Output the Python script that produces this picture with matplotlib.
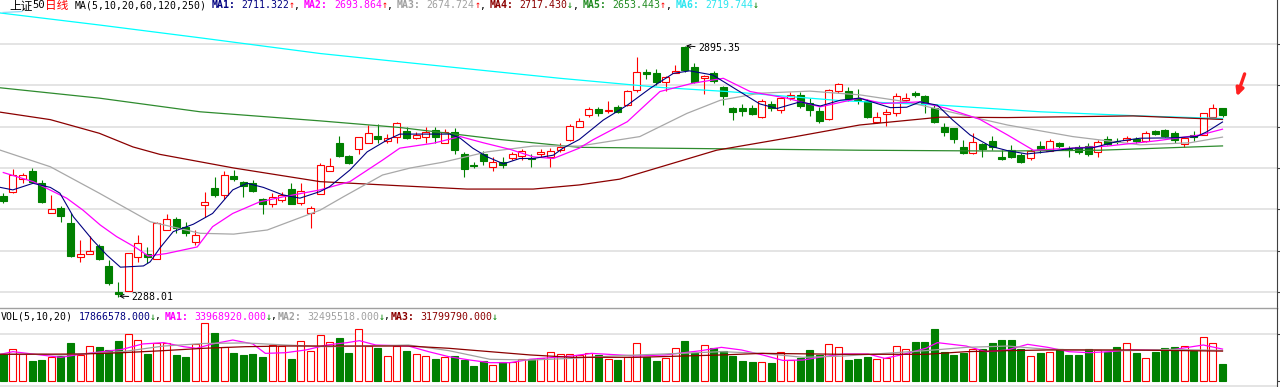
import numpy as np
import matplotlib.pyplot as plt
from matplotlib.lines import Line2D

W, H = 1280, 387

# ---- candle data (上证50 daily) ----
opens = [2532, 2543, 2573, 2593, 2563, 2492, 2502, 2467, 2384, 2393,
         2411, 2363, 2299, 2303, 2384, 2393, 2381, 2450, 2476, 2458,
         2420, 2510, 2551, 2535, 2581, 2565, 2563, 2524, 2514, 2522,
         2549, 2516, 2490, 2537, 2593, 2661, 2629, 2645, 2661, 2677,
         2666, 2676, 2690, 2672, 2676, 2692, 2660, 2688, 2635, 2607,
         2633, 2602, 2615, 2623, 2630, 2625, 2633, 2627, 2643, 2668,
         2700, 2728, 2743, 2737, 2748, 2752, 2789, 2833, 2829, 2809,
         2831, 2893, 2844, 2818, 2829, 2795, 2744, 2746, 2744, 2724,
         2756, 2740, 2770, 2777, 2758, 2739, 2718, 2787, 2787, 2769,
         2763, 2712, 2731, 2732, 2765, 2782, 2774, 2744, 2698, 2696,
         2650, 2637, 2658, 2666, 2626, 2643, 2631, 2623, 2652, 2642,
         2661, 2648, 2651, 2653, 2639, 2669, 2666, 2668, 2669, 2666,
         2690, 2692, 2684, 2658, 2680, 2680, 2724, 2744]
highs = [2540, 2597, 2588, 2599, 2571, 2535, 2508, 2490, 2426, 2435,
         2416, 2377, 2325, 2395, 2438, 2408, 2470, 2489, 2481, 2470,
         2450, 2543, 2579, 2593, 2595, 2568, 2571, 2527, 2539, 2543,
         2563, 2563, 2508, 2611, 2623, 2677, 2631, 2676, 2704, 2706,
         2682, 2712, 2700, 2688, 2698, 2700, 2695, 2696, 2639, 2615,
         2642, 2627, 2627, 2639, 2645, 2635, 2645, 2648, 2660, 2706,
         2720, 2748, 2748, 2762, 2752, 2789, 2868, 2839, 2839, 2823,
         2849, 2895.35, 2853, 2825, 2834, 2798, 2747, 2755, 2752, 2768,
         2761, 2772, 2784, 2784, 2769, 2747, 2792, 2806, 2796, 2790,
         2766, 2736, 2742, 2782, 2782, 2787, 2777, 2756, 2708, 2696,
         2668, 2685, 2660, 2677, 2643, 2656, 2637, 2646, 2666, 2670,
         2663, 2653, 2656, 2660, 2668, 2677, 2673, 2677, 2675, 2690,
         2692, 2694, 2689, 2676, 2690, 2734, 2756, 2744]
lows = [2515, 2539, 2563, 2563, 2516, 2492, 2470, 2384, 2372, 2392,
        2377, 2317, 2288.01, 2303, 2373, 2371, 2381, 2450, 2442, 2435,
        2413, 2482, 2530, 2524, 2569, 2529, 2543, 2489, 2505, 2518,
        2513, 2510, 2456, 2537, 2593, 2627, 2610, 2634, 2660, 2660,
        2660, 2661, 2669, 2669, 2661, 2661, 2660, 2635, 2577, 2599,
        2607, 2593, 2600, 2619, 2619, 2603, 2627, 2602, 2639, 2666,
        2699, 2723, 2727, 2734, 2734, 2750, 2785, 2815, 2802, 2787,
        2829, 2833, 2805, 2779, 2805, 2752, 2716, 2725, 2728, 2721,
        2739, 2732, 2765, 2744, 2726, 2710, 2716, 2781, 2763, 2756,
        2720, 2710, 2702, 2726, 2758, 2771, 2734, 2708, 2677, 2660,
        2634, 2634, 2626, 2643, 2619, 2625, 2613, 2619, 2637, 2642,
        2649, 2626, 2633, 2630, 2627, 2655, 2658, 2664, 2661, 2663,
        2679, 2674, 2661, 2650, 2666, 2680, 2724, 2724]
closes = [2521, 2583, 2583, 2567, 2517, 2500, 2484, 2387, 2392, 2400,
          2379, 2322, 2294, 2395, 2418, 2384, 2466, 2476, 2456, 2442,
          2438, 2518, 2535, 2583, 2573, 2556, 2545, 2513, 2530, 2535,
          2514, 2545, 2502, 2607, 2605, 2629, 2613, 2674, 2684, 2669,
          2672, 2708, 2672, 2680, 2688, 2674, 2688, 2643, 2597, 2605,
          2618, 2614, 2607, 2634, 2640, 2621, 2638, 2641, 2651, 2701,
          2713, 2743, 2732, 2740, 2736, 2786, 2833, 2827, 2809, 2821,
          2835, 2837, 2807, 2822, 2811, 2774, 2736, 2738, 2731, 2763,
          2744, 2769, 2777, 2750, 2740, 2714, 2789, 2803, 2766, 2765,
          2724, 2724, 2736, 2774, 2769, 2776, 2756, 2711, 2688, 2669,
          2636, 2664, 2645, 2650, 2621, 2627, 2615, 2641, 2646, 2666,
          2653, 2644, 2639, 2635, 2664, 2658, 2663, 2673, 2665, 2684,
          2682, 2677, 2668, 2672, 2676, 2732, 2744, 2728]
# volume in millions
volumes = [28.4, 33.7, 28.4, 21.6, 22.3, 25.2, 26.6, 40.1, 27.7, 37.2,
           36.5, 33.0, 42.6, 50.0, 43.6, 28.7, 40.8, 40.8, 27.7, 25.9,
           39.4, 62.0, 51.4, 36.5, 30.1, 28.0, 28.7, 25.9, 38.0, 37.2,
           23.1, 42.2, 32.3, 48.9, 41.5, 45.4, 30.1, 55.0, 37.2, 34.8,
           26.6, 37.2, 32.3, 28.7, 26.6, 23.4, 25.2, 26.6, 22.3, 16.3,
           21.3, 16.7, 20.6, 20.6, 23.1, 23.8, 24.8, 30.5, 28.7, 28.7,
           27.7, 29.4, 27.7, 23.8, 22.3, 25.9, 40.1, 25.2, 21.6, 24.1,
           34.8, 42.9, 30.1, 38.3, 34.8, 32.3, 26.6, 21.6, 20.6, 20.3,
           19.5, 30.5, 22.3, 24.1, 33.0, 27.7, 39.4, 36.0, 22.3, 23.8,
           25.9, 23.1, 24.1, 37.2, 33.9, 41.1, 41.1, 55.3, 30.5, 28.0,
           30.1, 33.7, 33.7, 40.1, 44.0, 43.3, 33.9, 26.6, 29.4, 31.3,
           33.9, 28.0, 28.0, 33.7, 33.0, 31.3, 35.8, 40.1, 30.1, 24.1,
           31.3, 34.8, 35.8, 37.2, 32.3, 46.5, 40.1, 17.87]

# ---- moving averages: candle position / value ----
ma5_x = [-0.3, 1, 3.1, 4.9, 5.9, 7.3, 9.3, 10.8, 12.2, 14.6, 15.3, 16.3, 17.7, 19.8,
         21.8, 23.9, 25.4, 27.1, 29.1, 30.9, 33, 34, 36.1, 37.9, 40, 41.3, 46.5, 47.6,
         48.9, 50.4, 52.1, 53.8, 55.2, 57.3, 58.3, 60, 62.5, 65, 67.4, 69.8, 71.5, 73.9,
         76.7, 78.8, 80.6, 83, 85.1, 87.2, 89.2, 92.4, 94.1, 95.5, 97.3, 98.9, 100.7,
         102.8, 104.6, 106.6, 108.7, 111.4, 113.5, 116, 118.4, 121.8, 124.3, 125.4, 127]
ma5_y = [2553, 2547, 2563, 2553, 2539, 2482, 2426, 2389, 2360, 2363, 2373, 2406, 2446, 2464,
         2490, 2547, 2563, 2553, 2535, 2527, 2543, 2555, 2595, 2639, 2668, 2682, 2682, 2672,
         2648, 2627, 2610, 2623, 2623, 2631, 2648, 2669, 2716, 2752, 2793, 2829, 2835, 2825,
         2785, 2755, 2744, 2760, 2750, 2764, 2769, 2746, 2747, 2760, 2752, 2716, 2680,
         2653, 2642, 2634, 2639, 2648, 2649, 2664, 2672, 2673, 2676, 2688, 2711.3]
ma10_x = [0, 3.1, 6.6, 8.3, 10.1, 11.8, 13.9, 15.1, 17, 20.2, 21.8, 23.9, 26.7, 29.1, 33,
          36.1, 39.5, 41.3, 44.8, 47.6, 50, 52.8, 55.2, 57.3, 60, 61.4, 65, 68.4, 71.8, 75,
          77.8, 81.6, 85.1, 89.2, 91.6, 95.5, 98.3, 101.7, 104.6, 107.3, 111.4, 115, 120.2,
          124.7, 127]
ma10_y = [2589, 2567, 2527, 2498, 2462, 2434, 2406, 2387, 2393, 2409, 2458, 2490, 2518, 2530,
          2547, 2567, 2619, 2648, 2660, 2676, 2661, 2645, 2627, 2623, 2648, 2668, 2712, 2785,
          2805, 2817, 2785, 2769, 2748, 2769, 2756, 2760, 2744, 2718, 2680, 2643, 2648, 2653,
          2666, 2680, 2693.9]
ma20_x = [-0.3, 4.9, 10, 15.3, 20.5, 24, 27.5, 33, 35.4, 39.5, 42.4, 45.8, 50.4, 55.2, 60,
          66.3, 71.2, 74.7, 78.8, 84, 89.2, 94.1, 99.3, 104.6, 111.4, 118.4, 123.6, 127]
ma20_y = [2643, 2603, 2539, 2470, 2442, 2440, 2450, 2498, 2530, 2583, 2600, 2614, 2639, 2653,
          2653, 2676, 2732, 2764, 2781, 2786, 2777, 2760, 2732, 2704, 2676, 2656, 2661, 2674.7]
ma60_x = [-0.3, 4.9, 10, 13.5, 16.3, 24, 33, 41.3, 48.3, 55.2, 60, 64.2, 74.3, 82.3, 89.2,
          97.6, 104.6, 117.7, 127]
ma60_y = [2735, 2717, 2684, 2651, 2633, 2600, 2567, 2557, 2549, 2549, 2559, 2573, 2643, 2675,
          2704, 2723, 2722, 2726, 2717.4]
ma120_x = [-0.3, 10, 20.5, 33, 41.3, 51.7, 60, 72.6, 89.2, 103.8, 114.2, 127]
ma120_y = [2794, 2769, 2736, 2714, 2698, 2669, 2650, 2647, 2643, 2641, 2643, 2653.4]
ma250_x = [-0.3, 10, 20.5, 33, 45, 58, 68.4, 75.4, 87.2, 97.6, 108, 118.4, 127]
ma250_y = [2975, 2946, 2915, 2877, 2848, 2817, 2795, 2785, 2763, 2752, 2736, 2726, 2719.7]

vma5_x = [-0.3, 1, 3.9, 6, 8.2, 10.3, 12.4, 14.5, 16.7, 18.8, 20.1, 21.8, 23.9, 26, 27.3,
          29.4, 31.5, 33.7, 35.8, 37.1, 38.8, 42.2, 44.3, 46.4, 48.6, 50.7, 52.8, 54.9, 59.2,
          61.3, 66, 68.9, 72.7, 74.8, 76.9, 79.1, 81.2, 83.3, 85.4, 87.6, 90.1, 91.8, 93.5,
          96.1, 97.3, 100.3, 102.4, 104.6, 106.7, 108.8, 111, 113.1, 115.2, 117.3, 121.6,
          125, 127]
vma5_y = [28.4, 31.2, 27.7, 25.2, 28.7, 31.2, 33.7, 39.4, 40.8, 36.5, 34.8, 39.4, 43.6, 39.4,
          29.4, 30.1, 33.0, 38.3, 40.8, 42.9, 38.3, 37.2, 31.2, 25.9, 22.3, 19.5, 19.5, 23.1,
          26.6, 29.4, 26.6, 27.7, 32.3, 35.8, 33.0, 27.7, 21.9, 22.3, 25.9, 28.7, 28.7, 24.1,
          27.7, 34.8, 40.8, 37.2, 31.2, 33.0, 39.0, 35.8, 31.2, 30.1, 31.2, 33.0, 33.0, 38.3,
          33.97]
vma10_x = [-0.3, 3.9, 6, 12.4, 16.7, 20.9, 25.2, 29.4, 33.7, 37.9, 42.2, 46.4, 50.7, 54.9,
           59.2, 63.4, 66, 70.5, 74.8, 79.1, 83.3, 87.6, 91.8, 96.1, 100.3, 104.6, 108.8,
           113.1, 117.3, 121.6, 127]
vma10_y = [28.4, 28.4, 27.7, 31.2, 37.2, 39.9, 40.5, 38.3, 36.5, 37.2, 38.3, 32.3, 23.1, 22.3,
           24.1, 26.6, 27.7, 29.4, 31.2, 29.4, 25.2, 26.6, 29.4, 32.3, 35.8, 37.2, 33.7, 33.0,
           32.3, 33.7, 32.5]
vma20_x = [-0.3, 8.2, 12.4, 16.7, 20.9, 25.2, 29.4, 42.2, 46.4, 50.7, 54.9, 59.2, 66, 74.8,
           79.1, 87.6, 96.1, 100.3, 104.6, 108.8, 117.3, 127]
vma20_y = [28.4, 28.7, 30.1, 32.3, 34.8, 36.5, 37.2, 37.2, 34.8, 31.2, 27.7, 25.2, 25.2, 27.7,
           29.4, 28.4, 28.4, 31.2, 32.3, 33.0, 33.0, 31.8]

grid_prices = [2300, 2400, 2500, 2600, 2700, 2800, 2900]

RED = '#ff0000'
GREEN = '#008000'


def fx(px):
    return px / W


def fy(py):
    return 1 - py / H


fig = plt.figure(figsize=(W / 100, H / 100), dpi=100)
fig.patch.set_facecolor('white')

SPLIT = 308      # pixel row of the panel separator
RIGHT = 1277     # pixel column of the price axis
STEP = 9.6       # pixels per candle
X0 = 3.3         # pixel column of the first candle
xlim = (-X0 / STEP, (RIGHT - X0) / STEP)

ax = fig.add_axes([0, fy(SPLIT), fx(RIGHT), SPLIT / H])
axv = fig.add_axes([0, 0, fx(RIGHT), (H - SPLIT) / H])

# price panel scale: 100 points per 41.33 px, 2900 at y=44
ppx = 100 / 41.33
ax.set_ylim(2900 - (SPLIT - 44) * ppx, 2900 + 44 * ppx)
ax.set_xlim(*xlim)
# volume panel scale: 0 at y=381, 50M at y=334
vpx = 50 / 47
axv.set_ylim(-(H - 381) * vpx, (381 - SPLIT) * vpx)
axv.set_xlim(*xlim)

for p in grid_prices:
    ax.axhline(p, color='#e4e4e4', lw=1.4, zorder=0)
axv.axhline(50, color='#e4e4e4', lw=1.4, zorder=0)
axv.axhline(-5.3, color='#e4e4e4', lw=1.4, zorder=0)

o = np.array(opens, dtype=float)
c = np.array(closes, dtype=float)
hi = np.array(highs, dtype=float)
lo = np.array(lows, dtype=float)
idx = np.arange(len(o))
up = c >= o
cols = np.where(up, RED, GREEN)

# candles
ax.vlines(idx, lo, hi, colors=cols, lw=0.8, zorder=3)
body_h = np.maximum(np.abs(c - o), 1.0)
ax.bar(idx, body_h, bottom=np.minimum(o, c), width=0.72,
       color=np.where(up, 'white', GREEN), edgecolor=cols, lw=0.8, zorder=4)

# moving averages
ax.plot(ma250_x, ma250_y, color='#00ffff', lw=0.9, zorder=5)
ax.plot(ma120_x, ma120_y, color='#2e8b2e', lw=0.9, zorder=5)
ax.plot(ma60_x, ma60_y, color='#8b0000', lw=0.9, zorder=5)
ax.plot(ma20_x, ma20_y, color='#a8a8a8', lw=0.9, zorder=5)
ax.plot(ma10_x, ma10_y, color='#ff00ff', lw=0.9, zorder=5)
ax.plot(ma5_x, ma5_y, color='#000080', lw=0.8, zorder=6)

# high / low labels
mono = ['DejaVu Sans Mono', 'DejaVu Sans']
i_hi = int(np.argmax(hi))
i_lo = int(np.argmin(lo))
ax.annotate(f'{hi[i_hi]:.2f}', xy=(i_hi + 0.1, hi[i_hi]),
            xytext=(i_hi + 1.35, hi[i_hi] - 6), family=mono, fontsize=7.1,
            va='center', ha='left',
            arrowprops=dict(arrowstyle='->', color='black', lw=0.7, shrinkA=0, shrinkB=0))
ax.annotate(f'{lo[i_lo]:.2f}', xy=(i_lo + 0.05, lo[i_lo] + 2),
            xytext=(i_lo + 1.35, lo[i_lo] - 1), family=mono, fontsize=7.1,
            va='center', ha='left',
            arrowprops=dict(arrowstyle='->', color='black', lw=0.7, shrinkA=0, shrinkB=0))

# red hand-drawn arrow at the right
ax.annotate('', xy=(128.4, 2767), xytext=(129.4, 2834),
            arrowprops=dict(arrowstyle='-|>', color='#ff2020', lw=2.4, mutation_scale=11))

# volume bars
v = np.array(volumes)
axv.bar(idx, v, width=0.72, color=np.where(up, 'white', GREEN),
        edgecolor=cols, lw=0.8, zorder=3)
axv.plot(vma5_x, vma5_y, color='#ff00ff', lw=0.9, zorder=5)
axv.plot(vma10_x, vma10_y, color='#a0a0a0', lw=0.9, zorder=5)
axv.plot(vma20_x, vma20_y, color='#8b0000', lw=0.9, zorder=5)

for a in (ax, axv):
    a.set_facecolor('none')
    a.spines['left'].set_visible(False)
    a.spines['top'].set_visible(False)
    a.spines['right'].set_color('#404040')
    a.spines['right'].set_linewidth(0.8)
    a.set_xticks([])
    a.yaxis.tick_right()
    a.tick_params(axis='y', direction='out', length=3, color='#404040',
                  labelright=False, labelleft=False)
ax.spines['bottom'].set_color('#a0a0a0')
ax.spines['bottom'].set_linewidth(1.0)
axv.spines['bottom'].set_visible(False)
ax.set_yticks(grid_prices)
axv.set_yticks([0, 50])

# ---- header texts ----
CW = 5.95
FS = 7.1
cjk = ['Noto Sans CJK SC', 'DejaVu Sans']


def put(x0, col, y, text, color, family=mono, size=FS, weight='normal'):
    fig.text(fx(x0 + col * CW), fy(y), text, color=color, family=family,
             fontsize=size, weight=weight, va='center', ha='left')


TY = 5.5
put(9, 0, TY, '上证', 'black', family=cjk, size=8.4)
put(9, 3.9, TY, '50', 'black', size=7.6)
put(9, 6, TY, '日线', RED, family=cjk, size=8.4)
put(9, 11, TY, 'MA(5,10,20,60,120,250)', 'black')
ma_names = ['MA1:', 'MA2:', 'MA3:', 'MA4:', 'MA5:', 'MA6:']
ma_values = ['2711.322', '2693.864', '2674.724', '2717.430', '2653.443', '2719.744']
ma_up = [True, True, True, False, True, False]
ma_colors = ['#000080', '#ff00ff', '#a0a0a0', '#8b0000', '#228b22', '#2ce6f0']
for k in range(6):
    s = 34 + 15.6 * k
    put(9, s, TY, ma_names[k], ma_colors[k], weight='bold')
    put(9, s + 5, TY, ma_values[k], ma_colors[k])
    put(9, s + 13, TY, '↑' if ma_up[k] else '↓', RED if ma_up[k] else GREEN)
    if k < 5:
        put(9, s + 13.8, TY, ',', 'black')
fig.add_artist(Line2D([fx(3), fx(22)], [fy(12.5), fy(11.5)], color='#8fd8f8', lw=0.9))

VY = 316.5
vol_names = ['MA1:', 'MA2:', 'MA3:']
vol_values = ['33968920.000', '32495518.000', '31799790.000']
vol_colors = ['#ff00ff', '#a0a0a0', '#8b0000']
put(1, 0, VY, 'VOL(5,10,20)', 'black')
put(1, 13, VY, '17866578.000', '#000080')
put(1, 25, VY, '↓', GREEN)
put(1, 25.8, VY, ',', 'black')
for k in range(3):
    s = 27.5 + 19 * k
    put(1, s, VY, vol_names[k], vol_colors[k], weight='bold')
    put(1, s + 5, VY, vol_values[k], vol_colors[k])
    put(1, s + 17, VY, '↓', GREEN)
    if k < 2:
        put(1, s + 17.8, VY, ',', 'black')

fig.savefig('out.png', dpi=100, facecolor='white')
